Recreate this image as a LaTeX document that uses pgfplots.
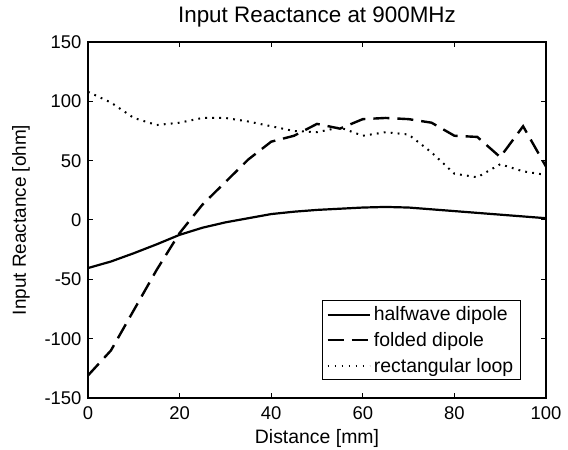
\documentclass[border=0pt]{standalone}
\usepackage{fontspec}
\setmainfont{Liberation Sans}
\usepackage{pgfplots}
\pgfplotsset{compat=1.18}
\begin{document}
\begin{tikzpicture}
\begin{axis}[
  name=ax,
  scale only axis,
  width=458bp, height=356bp,
  xmin=0, xmax=100, ymin=-150, ymax=150,
  xtick={0,20,...,100}, ytick={-150,-100,...,150},
  tick align=inside,
  major tick length=5bp,
  axis line style={line width=1.3bp},
  every tick/.style={line width=1bp, black},
  /pgf/number format/assume math mode=true,
  tick label style={font=\fontsize{18.5}{20}\selectfont},
  xticklabel style={yshift=-5bp},
  yticklabel style={xshift=-3bp},
  title={Input Reactance at 900MHz},
  title style={font=\fontsize{22.5}{24}\selectfont, at={(axis description cs:0.5,1.0393)}, anchor=base},
  xlabel={Distance [mm]},
  xlabel style={font=\fontsize{19.5}{22}\selectfont, at={(axis description cs:0.5,-0.1264)}, anchor=base},
  ylabel={Input Reactance [ohm]},
  ylabel style={font=\fontsize{19}{22}\selectfont, at={(axis description cs:-0.1354,0.5)}, anchor=base},
  legend style={at={(axis description cs:0.945,0.05)}, anchor=south east,
    font=\fontsize{19.5}{22}\selectfont, draw=black, line width=1.2bp,
    inner xsep=4bp, inner ysep=3bp, row sep=4bp, nodes={inner xsep=3bp, inner ysep=3bp}},
  legend cell align=left,
  legend image code/.code={\draw[#1] (0bp,0bp) -- (42bp,0bp);},
  legend image post style={xshift=-3bp},
]
\addplot[black, line width=2.2bp] coordinates {
(0,-40.5) (5,-35) (10,-28) (15,-20.5) (20,-12.5) (25,-6.5) (30,-2) (35,1.5) (40,5) (45,7) (50,8.5) (55,9.5) (60,10.5) (65,11) (70,10.5) (75,9) (80,7.5) (85,6) (90,4.5) (95,3) (100,1.5)
};
\addlegendentry{halfwave dipole}
\addplot[black, line width=2.4bp, dash pattern=on 16bp off 8bp] coordinates {
(0,-131) (5,-110) (10,-76) (15,-42) (20,-11) (25,13) (30,32) (35,51) (40,66) (45,71) (50,81) (55,77) (60,85) (65,86) (70,85) (75,82) (80,71) (85,70) (90,53) (95,79) (100,45)
};
\addlegendentry{folded dipole}
\addplot[black, line width=2bp, dash pattern=on 1.8bp off 5.2bp] coordinates {
(0,108) (5,99) (10,86) (15,80) (20,82) (25,86) (30,86) (35,83) (40,79) (45,75) (50,74) (55,78) (60,71) (65,74) (70,72) (75,57) (80,39) (85,36) (90,47) (95,41) (100,38)
};
\addlegendentry{rectangular loop}
\end{axis}
\pgfresetboundingbox
\path[use as bounding box] ([xshift=-88bp,yshift=-52bp]ax.south west) rectangle ([xshift=22bp,yshift=42bp]ax.north east);
\end{tikzpicture}
\end{document}
